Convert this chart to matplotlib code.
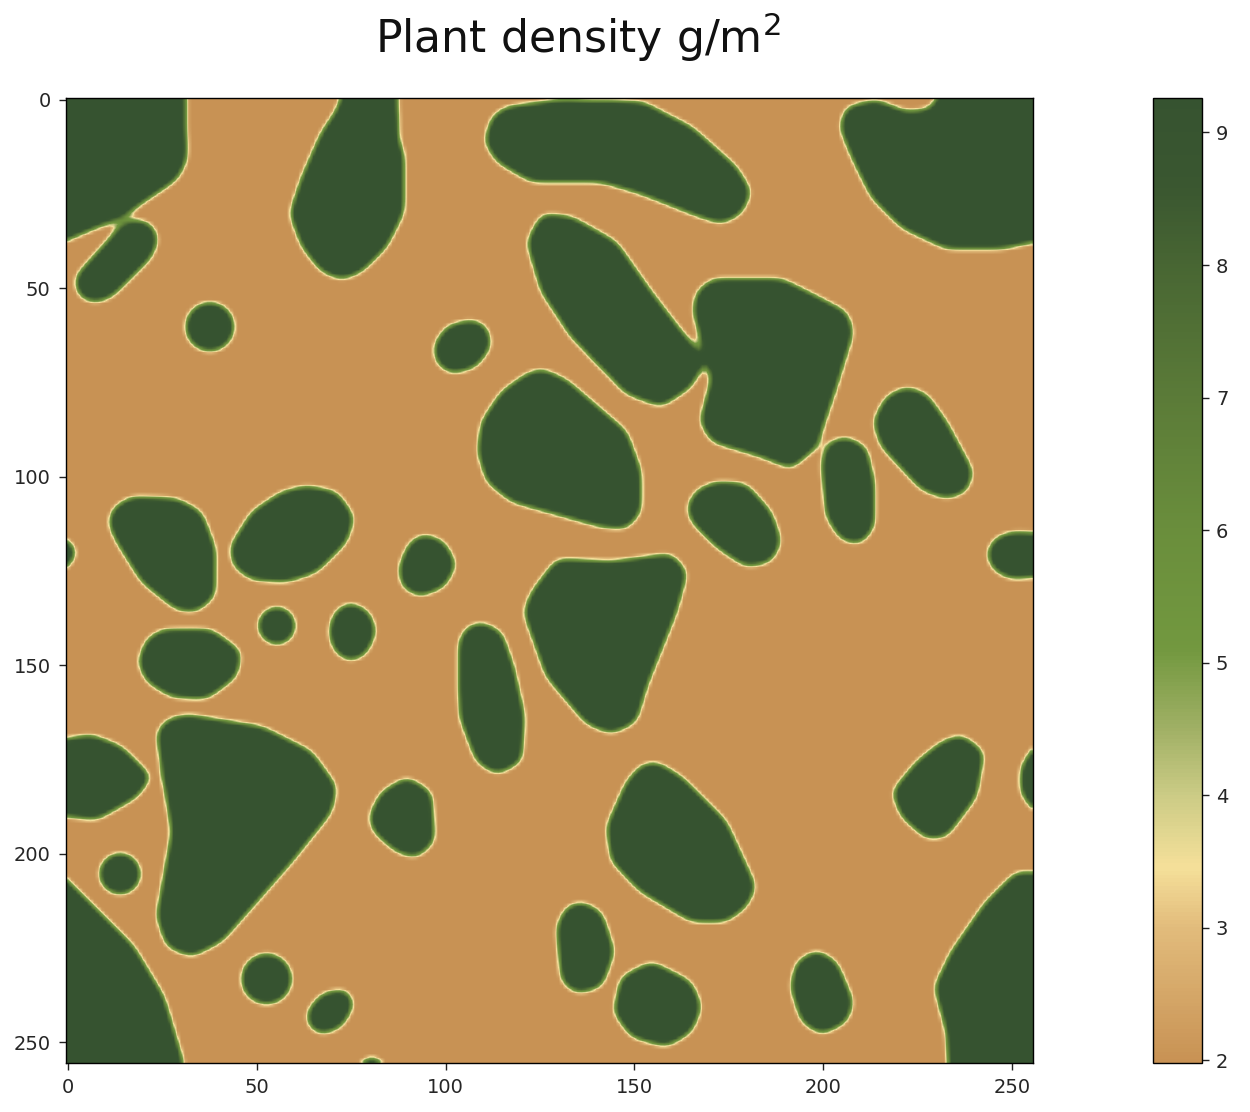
import numpy as np
import matplotlib
matplotlib.use("Agg")
import matplotlib.pyplot as plt
from matplotlib.colors import LinearSegmentedColormap, Normalize
from matplotlib.path import Path

TITLE = r"Plant density g/m$^2$"
VALUE_LOW = 1.98
VALUE_HIGH = 9.26
X_TICKS = [0, 50, 100, 150, 200, 250]
Y_TICKS = [0, 50, 100, 150, 200, 250]
CBAR_TICKS = [2, 3, 4, 5, 6, 7, 8, 9]
CMAP_VALUES = [1.98, 3.0, 3.45, 4.0, 4.5, 5.1, 6.0, 7.0, 8.0, 8.6, 9.26]
CMAP_COLORS = ["#C89254", "#E2BC7C", "#F5E09A", "#CBCB85", "#A0B065", "#72983F",
               "#6A8E3C", "#5B7B38", "#486633", "#3A5730", "#365330"]

# Patch outlines (x, y in grid cells)
PATCHES = [
    [(-9,-9),(31,-9),(31.5,16),(29,21),(14.3,31),(-9,41)],
    [(1.9,47),(5,43.5),(14.3,33.2),(18.3,31.8),(22.2,32.9),(24,37),(22.2,41.6),(11.6,52.2),(7.6,53.8),(3.7,52.8),(1.9,49.6)],
    [(75,-9),(87,-9),(87.6,11),(89,14),(89,29.7),(84.4,39),(77.8,45.6),(72.5,47.7),(67.2,45.6),(62,39),(58.7,30.2),(62,20.4),(67.2,8.5),(71.2,2.7)],
    [(116,1.9),(130,0),(152,0.5),(165.1,7.2),(177,17.8),(181,24.4),(178.3,30.2),(173,32.9),(165.1,30.2),(151.8,24.9),(141.3,21.8),(122.8,21.8),(113.5,16.4),(110.3,11.1),(112.2,4.5)],
    [(206,1.9),(204.3,7.2),(207.5,15.1),(212.8,25.9),(220.7,33.9),(232.6,39.5),(247.1,39.5),(264,36),(264,-9),(234,-9),(228.6,2.4),(222,3.2),(214,0)],
    [(125.4,30.2),(133.3,31),(145.2,37.7),(154.5,51),(168.5,69.3),(165.1,76.1),(157.1,81.4),(147.9,78),(133.3,62.9),(125.4,51),(121.5,37.7)],
    [(170.6,47.5),(189,47.5),(206.2,56.2),(208,61.5),(203.5,76.1),(198.2,92),(191.6,97.9),(183.7,94.7),(170.4,90.7),(167.3,85.4),(170.5,73.5),(165.5,56.2),(166.4,50.9)],
    [(96.8,65.2),(100.3,60),(106.9,58.3),(110.9,60),(112.2,65.2),(108.2,70.8),(101.6,72.7),(97.6,70)],
    [(125.4,71.3),(132,74.3),(147.9,88),(151.8,98.7),(151.8,109.3),(147.9,113.8),(141.3,113.3),(117.5,106.6),(110.9,101.3),(108.5,93.4),(109.5,85.4),(114.8,77.4),(121.4,72.7)],
    [(222,76.1),(227.3,78),(232.6,85.4),(239.7,98.7),(237.9,104),(232.6,105.8),(226,103.4),(215.4,92),(213.2,85.4),(216.6,78.7)],
    [(206,89.4),(211.3,92),(213.5,101.3),(213.5,113.3),(210,117.8),(204.8,116.8),(200.8,110.7),(199.5,96.1),(201.6,90.7)],
    [(171.7,101.3),(179.6,101.9),(186.2,109.3),(188.9,117.2),(186.2,122.5),(179.6,123.9),(171.7,118.6),(165.1,112),(163.8,108),(166.4,103.5)],
    [(249.7,114.6),(264,115.4),(264,125.7),(249.7,127.1),(245,124.7),(243.1,120.4),(245.2,116.4)],
    [(-9,116),(-1,116),(2.2,119),(2.2,121),(-1,125),(-9,125)],
    [(16.9,105.3),(28.8,105.8),(35.4,109.3),(38.9,118.6),(38.9,131.8),(34.1,135.8),(28.8,135.3),(19.6,127.9),(12.9,117.2),(10.6,112),(12.2,108)],
    [(63.2,102.4),(71.2,104),(75.9,110.7),(73.8,117.2),(65.9,125.2),(57.9,127.9),(48.7,127.3),(43.9,123.9),(42.9,118.6),(48.7,109.3),(56.6,104)],
    [(94.4,115.2),(99.7,117.2),(102.9,123.3),(99.7,129.2),(93.1,131.8),(88.4,129.2),(87.6,123.9),(90.5,117.2)],
    [(74.6,133.2),(79.8,135.8),(81.7,141.1),(79,147),(74.6,149.1),(70.6,146.4),(69,141.1),(70.6,135.8)],
    [(24.9,140.6),(38.1,140.6),(46,146.4),(44.7,153),(36.8,158.9),(27.5,158.4),(20.9,154.4),(18.5,149.1),(20.9,143)],
    [(129.4,121.8),(143.9,122.5),(159.8,120.4),(164,125.2),(161.1,135.8),(153.2,155.7),(150.5,165),(143.9,168.2),(137.3,165.5),(126.7,153),(120.6,135.8),(122.8,130.5)],
    [(109.5,138.5),(114.8,141.1),(118,150.4),(120.9,163.6),(120.1,175.6),(113.5,179),(108.2,175.6),(103.7,163.6),(103.4,143.8),(105.6,139.8)],
    [(-9,171),(6.3,168.4),(14.3,171.6),(22.2,179.6),(18.3,184.9),(7.6,191),(-9,189)],
    [(31.5,163.1),(51.3,166.3),(64.5,172.9),(71.2,182.2),(69.8,188.9),(59.3,202.1),(40.7,223.3),(32.8,227.3),(26.2,224.7),(23.5,216.7),(27.5,194.2),(24.9,178.3),(23.5,167.7),(26.2,164.4)],
    [(89.7,179.6),(96.3,183.6),(97.1,196.8),(92.3,201.1),(87,199.5),(80.9,194.2),(79.6,190.2),(83,183.6)],
    [(155.8,175.6),(162.4,179.6),(174.3,191.5),(182.2,208.8),(179.6,214.1),(174.3,218),(165.1,218),(151.8,210.1),(143.9,202.1),(142.6,192.8),(147.9,180.9),(151.8,176.4)],
    [(236.5,168.4),(242.6,172.9),(240.5,184.9),(232.6,195.5),(227.3,196),(220.7,190.2),(218.1,183.6),(224.7,175.6),(231.3,170.3)],
    [(264,171),(256,171),(252.3,177),(252.3,184),(256,189),(264,189)],
    [(-9,198),(17.5,224.7),(25.4,237.9),(30.5,255),(31,264),(-9,264)],
    [(136,212.7),(141.3,215.4),(144.7,226),(141.3,235.3),(134.7,237.1),(130.7,233.9),(129.4,219.3),(132,214)],
    [(154.5,228.6),(165.1,234),(167.8,240.6),(165.1,247.3),(158.5,251.2),(149.2,248.6),(144.4,242),(146.5,232.7)],
    [(198.2,225.5),(203.5,228.6),(208,239.3),(206.2,244.6),(199.5,248),(194.2,244.6),(191.3,235.3),(192.9,228.6)],
    [(264,205.3),(251,204.8),(243.1,212.7),(233.9,226),(229.4,235.3),(232.6,247.3),(233.5,264),(264,264)],
    [(63.2,241.9),(67.2,237.1),(73.8,235.8),(75.9,240),(72.5,245.9),(67.2,248),(63.7,245.9)],
    [(73,260),(80.4,253),(88,260)],
]
# Round patches: centre x, centre y, radius
ROUND_PATCHES = [(37.6, 60.2, 6.5), (55.3, 139.5, 5.0), (13.8, 205.3, 5.5), (52.6, 233.2, 6.7)]

# Build the field on a fine grid, then reduce to 256 x 256 cells
SS = 4
MARGIN = 8
n = (256 + 2 * MARGIN) * SS
c = (np.arange(n) + 0.5) / SS - MARGIN - 0.5
gx, gy = np.meshgrid(c, c)
pts = np.column_stack([gx.ravel(), gy.ravel()])
mask = np.zeros(n * n, dtype=bool)
for poly in PATCHES:
    mask |= Path(np.array(poly + [poly[0]], float), closed=True).contains_points(pts)
mask = mask.reshape(n, n)
for cx, cy, r in ROUND_PATCHES:
    mask |= np.hypot(gx - cx, gy - cy) <= r

sigma = 1.8 * SS
half = int(3 * sigma)
k = np.exp(-0.5 * (np.arange(-half, half + 1) / sigma) ** 2)
k /= k.sum()
b = mask.astype(float)
b = np.apply_along_axis(lambda r: np.convolve(r, k, mode="same"), 0, b)
b = np.apply_along_axis(lambda r: np.convolve(r, k, mode="same"), 1, b)
s = np.clip((b - 0.36) / 0.28, 0, 1)
s = s.reshape(n // SS, SS, n // SS, SS).mean(axis=(1, 3))
s = s[MARGIN:MARGIN + 256, MARGIN:MARGIN + 256]
field = VALUE_LOW + s * (VALUE_HIGH - VALUE_LOW)

pos = [(v - VALUE_LOW) / (VALUE_HIGH - VALUE_LOW) for v in CMAP_VALUES]
cmap = LinearSegmentedColormap.from_list("plant", list(zip(pos, CMAP_COLORS)), N=256)

W, H = 1250, 1112
fig = plt.figure(figsize=(W / 100, H / 100), dpi=100, facecolor="white")
ax = fig.add_axes([66 / W, 1 - 1063 / H, 967 / W, 965 / H])
cax = fig.add_axes([1153 / W, 1 - 1063 / H, 49 / W, 965 / H])

im = ax.imshow(field, cmap=cmap, norm=Normalize(VALUE_LOW, VALUE_HIGH),
               interpolation="bilinear", aspect="auto")
ax.set_xticks(X_TICKS)
ax.set_yticks(Y_TICKS)
cb = fig.colorbar(im, cax=cax)
cb.set_ticks(CBAR_TICKS)

for a in (ax, cax):
    a.tick_params(length=5, width=1.0, labelsize=14, color="#222222", labelcolor="#262626")
    for sp in a.spines.values():
        sp.set_linewidth(1.0)
ax.tick_params(axis="x", pad=5.5)
ax.tick_params(axis="y", pad=6)
cax.tick_params(axis="y", pad=5)
cb.outline.set_linewidth(1.0)

fig.text(578 / W, 1 - 37 / H, TITLE, ha="center", va="center", fontsize=31.8, color="#111111")

fig.savefig("out.png", dpi=100)
